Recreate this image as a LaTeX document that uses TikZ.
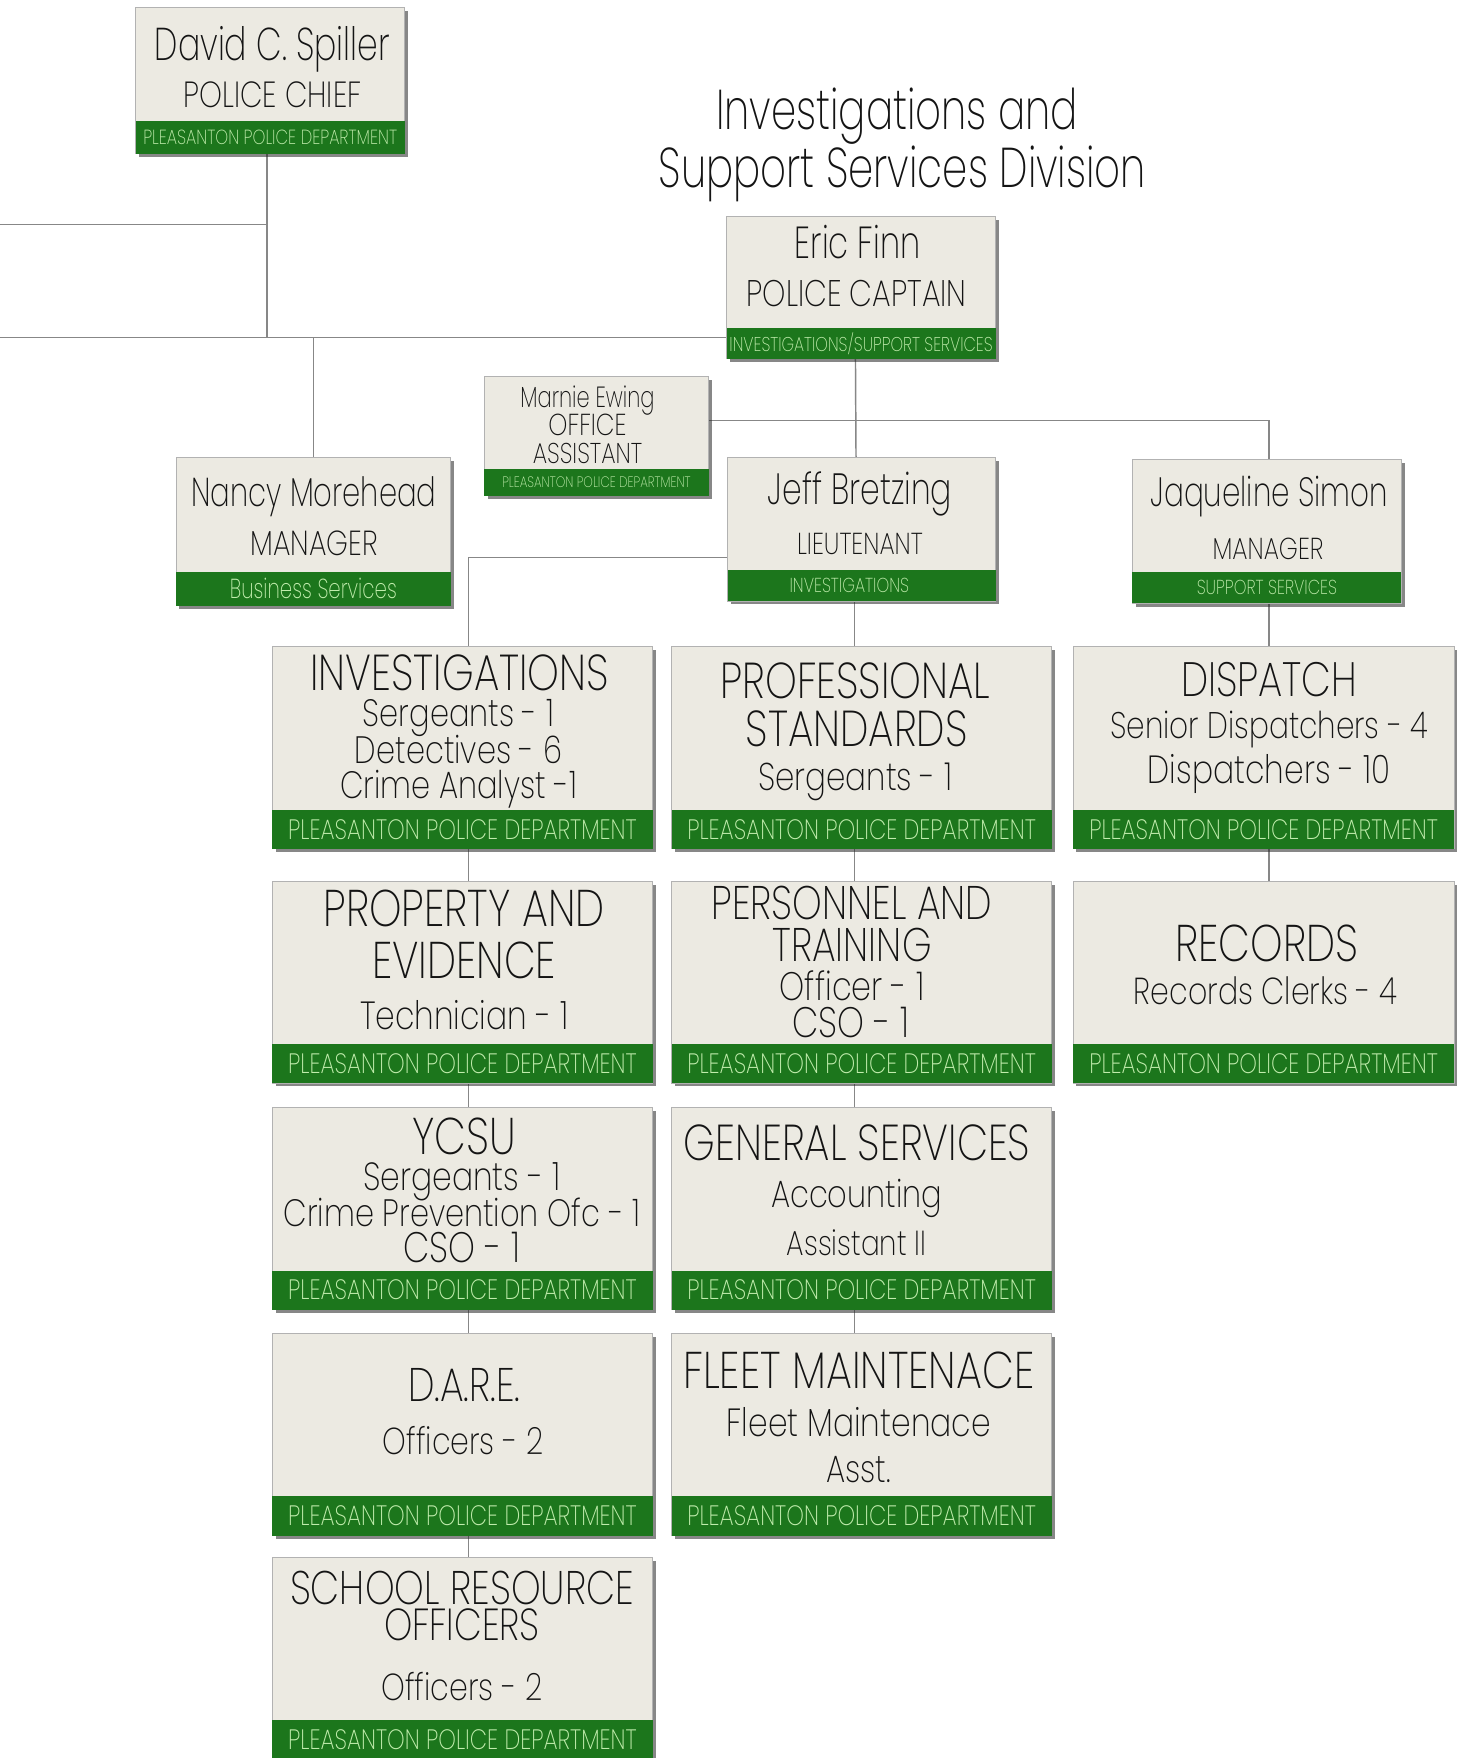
\documentclass[tikz,border=0pt]{standalone}
\usepackage{fontspec}
\setmainfont{Poppins}[UprightFont=* ExtraLight, FakeStretch=0.8]
\newfontfamily\narrowfont{Poppins}[UprightFont=* ExtraLight, FakeStretch=0.72]
\usetikzlibrary{shadows}
\definecolor{cardbg}{RGB}{236,234,226}
\definecolor{bandgreen}{RGB}{28,118,28}
\definecolor{bandtext}{RGB}{192,236,172}
\definecolor{wiregray}{RGB}{135,135,135}
\definecolor{ink}{RGB}{20,20,20}
\newcommand\pfs[1]{\fontsize{#1}{#1}\selectfont}
\pgfdeclarelayer{background}
\pgfsetlayers{background,main}

\begin{document}
\begin{tikzpicture}[x=1pt,y=-1pt,
  card/.style={draw=black!30, line width=0.8pt, fill=cardbg, inner sep=0pt,
    drop shadow={shadow xshift=3pt, shadow yshift=-3pt, opacity=0.55, fill=black!85}},
  rowcard/.style={card, minimum width=339pt, minimum height=180pt},
  band/.style={fill=bandgreen, text=bandtext, inner sep=0pt, anchor=south,
    execute at begin node={\hbox to 0pt\bgroup\hss}, execute at end node={\hss\egroup}},
  ppd/.style={band, minimum width=339pt, minimum height=35pt, font=\pfs{25}},
  txt/.style={inner sep=0pt, anchor=base, text=ink},
  head/.style={txt, font=\pfs{45}},
  sub/.style={txt, font=\pfs{34}},
  wire/.style={draw=wiregray, line width=1.3pt}]

% page
\path[use as bounding box] (0,0) rectangle (1299,1568);

% title
\node[txt, font=\narrowfont\pfs{50}] (title1) at (800,115.6) {Investigations and};
\node[txt, font=\narrowfont\pfs{50}] (title2) at (805,167.6) {Support Services Division};

% chief
\node[card, minimum width=240pt, minimum height=130pt] (chief) at (241,72) {};
\node[band, minimum width=240pt, minimum height=29pt, font=\pfs{18.2}] (chiefband) at (chief.south) {PLEASANTON POLICE DEPARTMENT};
\node[txt, font=\narrowfont\pfs{41}] (chief1) at (243,53.6) {David C. Spiller};
\node[txt, font=\pfs{32.4}] (chief2) at (243,96) {POLICE CHIEF};

% captain
\node[card, minimum width=240pt, minimum height=127pt] (capt) at (768,256.5) {};
\node[band, minimum width=240pt, minimum height=28pt, font=\pfs{17.8}] (captband) at (capt.south) {INVESTIGATIONS/SUPPORT SERVICES};
\node[txt, font=\narrowfont\pfs{40}] (capt1) at (765,231) {Eric Finn};
\node[txt, font=\pfs{33}] (capt2) at (764,273.4) {POLICE CAPTAIN};

% office assistant
\node[card, minimum width=200pt, minimum height=106pt] (marnie) at (532,389) {};
\node[band, minimum width=200pt, minimum height=24pt, font=\pfs{13.5}] (marnieband) at (marnie.south) {PLEASANTON POLICE DEPARTMENT};
\node[txt, font=\narrowfont\pfs{26}] (marnie1) at (524,363.4) {Marnie Ewing};
\node[txt, font=\pfs{27}] (marnie2) at (524,388) {OFFICE};
\node[txt, font=\pfs{25.5}] (marnie3) at (524,413.4) {ASSISTANT};

% business services
\node[card, minimum width=245pt, minimum height=132pt] (nancy) at (279.5,474) {};
\node[band, minimum width=245pt, minimum height=30pt, font=\narrowfont\pfs{24.5}] (nancyband) at (nancy.south) {Business Services};
\node[txt, font=\narrowfont\pfs{36}] (nancy1) at (280,451.5) {Nancy Morehead};
\node[txt, font=\pfs{31}] (nancy2) at (280,495.6) {MANAGER};

% lieutenant
\node[card, minimum width=239pt, minimum height=128pt] (jeff) at (768.5,472) {};
\node[band, minimum width=239pt, minimum height=28pt, font=\pfs{18}] (jeffband) at (jeff.south) {\hspace*{-22pt}INVESTIGATIONS};
\node[txt, font=\narrowfont\pfs{39}] (jeff1) at (767,450) {Jeff Bretzing};
\node[txt, font=\pfs{27}] (jeff2) at (767,494.8) {LIEUTENANT};

% support services
\node[card, minimum width=240pt, minimum height=128pt] (jaq) at (1130,474) {};
\node[band, minimum width=240pt, minimum height=28pt, font=\pfs{18}] (jaqband) at (jaq.south) {SUPPORT SERVICES};
\node[txt, font=\narrowfont\pfs{36.5}] (jaq1) at (1132,452) {Jaqueline Simon};
\node[txt, font=\pfs{27}] (jaq2) at (1131,499) {MANAGER};

% units, left column
\node[rowcard] (inv) at (412.5,667) {};
\node[ppd] (invband) at (inv.south) {PLEASANTON POLICE DEPARTMENT};
\node[head] (inv1) at (410,615.6) {INVESTIGATIONS};
\node[sub] (inv2) at (409,648) {Sergeants - 1};
\node[sub] (inv3) at (409,681) {Detectives - 6};
\node[sub] (inv4) at (409,712.5) {Crime Analyst -1};

\node[rowcard] (prop) at (412.5,876) {};
\node[ppd] (propband) at (prop.south) {PLEASANTON POLICE DEPARTMENT};
\node[head, font=\pfs{46}] (prop1) at (414,826) {PROPERTY AND};
\node[head, font=\pfs{46}] (prop2) at (414,873) {EVIDENCE};
\node[sub, font=\pfs{35}] (prop3) at (414,918) {Technician - 1};

\node[rowcard] (ycsu) at (412.5,1078) {};
\node[ppd] (ycsuband) at (ycsu.south) {PLEASANTON POLICE DEPARTMENT};
\node[head, font=\pfs{46}] (ycsu1) at (414,1030) {YCSU};
\node[sub, font=\pfs{35}] (ycsu2) at (412,1062) {Sergeants - 1};
\node[sub] (ycsu3) at (412,1093.7) {Crime Prevention Ofc - 1};
\node[sub, font=\pfs{38}] (ycsu4) at (412,1126) {CSO - 1};

\node[rowcard] (dare) at (412.5,1279.5) {};
\node[ppd] (dareband) at (dare.south) {PLEASANTON POLICE DEPARTMENT};
\node[head, font=\pfs{42}] (dare1) at (414,1250) {D.A.R.E.};
\node[sub, font=\pfs{33.5}] (dare2) at (413,1297.7) {Officers - 2};

\node[rowcard] (sro) at (412.5,1479) {};
\node[ppd] (sroband) at (sro.south) {PLEASANTON POLICE DEPARTMENT};
\node[head, font=\pfs{42}] (sro1) at (412,1430.7) {SCHOOL RESOURCE};
\node[head, font=\pfs{40}] (sro2) at (412,1463.5) {OFFICERS};
\node[sub, font=\pfs{33.6}] (sro3) at (412,1516.7) {Officers - 2};

% units, middle column
\node[rowcard] (prof) at (768.5,667) {};
\node[ppd] (profband) at (prof.south) {PLEASANTON POLICE DEPARTMENT};
\node[head] (prof1) at (763,623) {PROFESSIONAL};
\node[head] (prof2) at (764,666) {STANDARDS};
\node[sub, font=\pfs{34.5}] (prof3) at (763,705) {Sergeants - 1};

\node[rowcard] (pers) at (768.5,876) {};
\node[ppd] (persband) at (pers.south) {PLEASANTON POLICE DEPARTMENT};
\node[head, font=\pfs{42}] (pers1) at (760,820) {PERSONNEL AND};
\node[head, font=\pfs{42}] (pers2) at (760,858) {TRAINING};
\node[sub, font=\pfs{35.5}] (pers3) at (760,892) {Officer - 1};
\node[sub, font=\pfs{38}] (pers4) at (759,925) {CSO - 1};

\node[rowcard] (gen) at (768.5,1078) {};
\node[ppd] (genband) at (gen.south) {PLEASANTON POLICE DEPARTMENT};
\node[head] (gen1) at (764.5,1035) {GENERAL SERVICES};
\node[sub] (gen2) at (764,1077) {Accounting};
\node[sub, font=\pfs{31}] (gen3) at (764,1120) {Assistant II};

\node[rowcard] (fleet) at (768.5,1279.5) {};
\node[ppd] (fleetband) at (fleet.south) {PLEASANTON POLICE DEPARTMENT};
\node[head, font=\pfs{46}] (fleet1) at (766,1238) {FLEET MAINTENACE};
\node[sub, font=\pfs{35}] (fleet2) at (766,1281) {Fleet Maintenace};
\node[sub] (fleet3) at (766,1322) {Asst.};

% units, right column
\node[rowcard, minimum width=340pt] (disp) at (1127,667) {};
\node[ppd, minimum width=340pt] (dispband) at (disp.south) {PLEASANTON POLICE DEPARTMENT};
\node[head, font=\pfs{43}] (disp1) at (1132,621) {DISPATCH};
\node[sub, font=\pfs{33}] (disp2) at (1132,659) {Senior Dispatchers - 4};
\node[sub, font=\pfs{35}] (disp3) at (1132,699) {Dispatchers - 10};

\node[rowcard, minimum width=340pt] (rec) at (1127,876) {};
\node[ppd, minimum width=340pt] (recband) at (rec.south) {PLEASANTON POLICE DEPARTMENT};
\node[head, font=\pfs{46}] (rec1) at (1130,858) {RECORDS};
\node[sub, font=\pfs{33.5}] (rec2) at (1129,896) {Records Clerks - 4};

% connectors
\coordinate (edgeA) at (0,200);
\coordinate (edgeB) at (0,301);
\coordinate (chiefdrop) at ([xshift=-3pt]chief.south);
\begin{pgfonlayer}{background}
\fill[white] (0,0) rectangle (1299,1568);
\draw[wire] (chiefdrop) -- (chiefdrop |- edgeB);
\draw[wire] (edgeA) -- (edgeA -| chiefdrop);
\draw[wire] (edgeB) -- (edgeB -| capt.west);
\draw[wire] (nancy.north) -- (nancy.north |- edgeB);
\draw[wire] ([xshift=-5pt]capt.south) -- ([xshift=-5pt]jeff.north);
\draw[wire] ([yshift=14pt]marnie.east) -| ([xshift=2pt]jaq.north);
\draw[wire] ([yshift=-25pt]jeff.west) -| ([xshift=5.5pt]inv.north);
\draw[wire] ([xshift=-6.5pt]jeff.south) -- ([xshift=-6.5pt]prof.north);
\draw[wire] ([xshift=2pt]jaq.south) -- ([xshift=5pt]disp.north);
\foreach \a/\b in {inv/prop, prop/ycsu, ycsu/dare, dare/sro}
  \draw[wire] ([xshift=5.5pt]\a.south) -- ([xshift=5.5pt]\b.north);
\foreach \a/\b in {prof/pers, pers/gen, gen/fleet}
  \draw[wire] ([xshift=-6.5pt]\a.south) -- ([xshift=-6.5pt]\b.north);
\draw[wire] ([xshift=5pt]disp.south) -- ([xshift=5pt]rec.north);
\end{pgfonlayer}
\end{tikzpicture}
\end{document}
